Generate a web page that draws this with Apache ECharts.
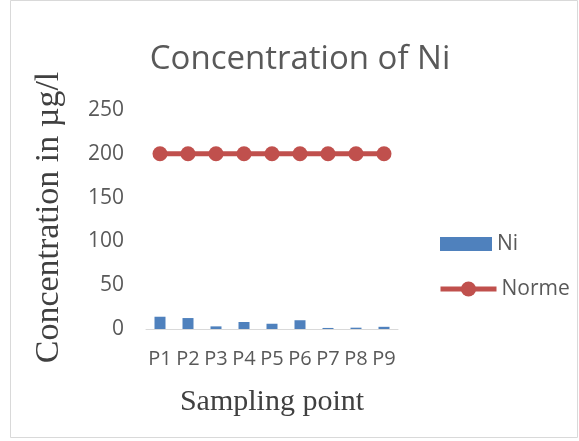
<!DOCTYPE html>
<html>
<head>
<meta charset="utf-8">
<title>Concentration of Ni</title>
<script type="text/javascript" src="https://cdn.jsdelivr.net/npm/echarts@6/dist/echarts.min.js"></script>
<style>
	html, body { margin: 0; padding: 0; background: #fff; }
	#container { width: 579px; height: 441px; }
</style>
</head>
<body>
	<div id="container"></div>
	<script type="text/javascript">
	var categories = ['P1', 'P2', 'P3', 'P4', 'P5', 'P6', 'P7', 'P8', 'P9'];
	var niValues = [14, 12.5, 3, 8, 6, 10, 1.2, 1.5, 2.5];
	var normeValues = [200, 200, 200, 200, 200, 200, 200, 200, 200];
	var yTicks = [0, 50, 100, 150, 200, 250];

	var dom = document.getElementById("container");
	var myChart = echarts.init(dom);
	var sans = '"Open Sans", "Noto Sans", sans-serif';
	var serif = '"Liberation Serif", "DejaVu Serif", serif';
	var legendText = { fontFamily: sans, fontSize: 21, color: '#595959', lineHeight: 22 };

	var option = {
		backgroundColor: '#fff',
		animation: false,
		title: {
			text: 'Concentration of Ni',
			left: 295, top: 38, textAlign: 'center',
			textStyle: { fontFamily: sans, fontSize: 33, fontWeight: 'normal', color: '#595959' }
		},
		graphic: [{
			type: 'rect',
			shape: { x: 10.5, y: 0.5, width: 567, height: 437 },
			style: { fill: 'none', stroke: '#d9d9d9', lineWidth: 1 }
		}],
		legend: [{
			left: 435, top: 228,
			itemWidth: 52, itemHeight: 14, itemGap: 6,
			textStyle: legendText,
			data: [{ name: 'Ni', icon: 'rect' }]
		}, {
			left: 433, top: 273,
			itemWidth: 56, itemHeight: 19, itemGap: 6,
			textStyle: legendText,
			lineStyle: { width: 5 },
			data: [{ name: 'Norme' }]
		}],
		grid: { left: 146, right: 181, top: 110, bottom: 112 },
		xAxis: {
			type: 'category',
			data: categories,
			name: 'Sampling point',
			nameLocation: 'middle',
			nameGap: 58,
			nameTextStyle: { fontFamily: serif, fontSize: 30, color: '#404040' },
			axisLine: { lineStyle: { color: '#d9d9d9' } },
			axisTick: { show: false },
			axisLabel: { fontFamily: sans, fontSize: 20, color: '#595959', margin: 20, interval: 0 }
		},
		yAxis: {
			type: 'value',
			min: 0, max: yTicks[yTicks.length - 1], interval: 50,
			name: 'Concentration in \u00b5g/l',
			nameLocation: 'middle',
			nameGap: 80,
			nameTextStyle: { fontFamily: serif, fontSize: 34, color: '#404040', padding: [0, 0, 0, 4] },
			axisLine: { show: false },
			axisTick: { show: false },
			splitLine: { show: false },
			axisLabel: { fontFamily: sans, fontSize: 21, color: '#595959', margin: 22 }
		},
		series: [{
			name: 'Ni',
			type: 'bar',
			data: niValues,
			barWidth: 11,
			itemStyle: { color: '#4f81bd' }
		}, {
			name: 'Norme',
			type: 'line',
			data: normeValues,
			symbol: 'circle',
			symbolSize: 15,
			lineStyle: { color: '#c0504d', width: 5 },
			itemStyle: { color: '#c0504d' }
		}]
	};
	myChart.setOption(option, true);
	</script>
</body>
</html>
